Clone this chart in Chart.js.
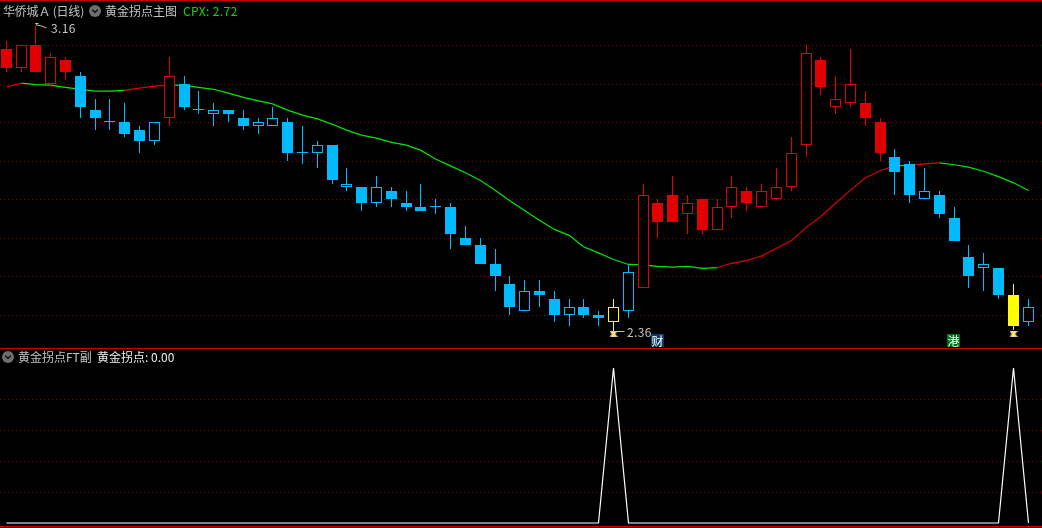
<!DOCTYPE html>
<html>
<head>
<meta charset="utf-8">
<title>华侨城A</title>
<script src="https://cdn.jsdelivr.net/npm/chart.js@4/dist/chart.umd.js"></script>
<style>
  html, body { margin: 0; padding: 0; background: #000; overflow: hidden; }
  #page { position: relative; width: 1042px; height: 528px; background: #000; overflow: hidden; }
  canvas { position: absolute; left: 0; display: block; }
  #mainChart { top: 0; }
  #subChart { top: 348px; }
  .rule { position: absolute; left: 0; width: 1042px; height: 1px; background: #c80000; }
  .txt { position: absolute; white-space: nowrap; font: 12px/14px "Noto Sans CJK SC", "Liberation Sans", sans-serif; color: #c4c4c4; }
  .badge { position: absolute; width: 13px; height: 13px; color: #fff; text-align: center; font: 12px/13px "Noto Sans CJK SC", sans-serif; }
  .knob { position: absolute; width: 12px; height: 12px; }
</style>
</head>
<body>
<div id="page">
  <canvas id="mainChart" width="1042" height="348"></canvas>
  <canvas id="subChart" width="1042" height="180"></canvas>

  <div class="rule" style="top:0"></div>
  <div class="rule" style="top:348px"></div>
  <div class="rule" style="top:526px"></div>

  <span class="txt" style="left:3px;top:4px;letter-spacing:-.2px">华侨城Ａ (日线)</span>
  <svg class="knob" style="left:89px;top:5px" viewBox="0 0 13 13"><circle cx="6.5" cy="6.5" r="6.5" fill="#6e6e6e"/><polyline points="3.5,5 6.5,8 9.5,5" fill="none" stroke="#000" stroke-width="1.4"/></svg>
  <span class="txt" style="left:105px;top:4px">黄金拐点主图</span>
  <span class="txt" style="left:183px;top:4px;color:#00e000;letter-spacing:.4px">CPX: 2.72</span>

  <span class="txt" style="left:51px;top:21px;letter-spacing:.4px">3.16</span>
  <span class="txt" style="left:627px;top:325px;letter-spacing:.4px">2.36</span>
  <span class="badge" style="left:651px;top:334px;background:#0b3a6e">财</span>
  <span class="badge" style="left:947px;top:334px;background:#00700f">港</span>

  <svg class="knob" style="left:2px;top:351px" viewBox="0 0 13 13"><circle cx="6.5" cy="6.5" r="6.5" fill="#6e6e6e"/><polyline points="3.5,5 6.5,8 9.5,5" fill="none" stroke="#000" stroke-width="1.4"/></svg>
  <span class="txt" style="left:18px;top:350px">黄金拐点FT副</span>
  <span class="txt" style="left:97px;top:350px;color:#eee">黄金拐点: 0.00</span>
</div>

<script>
// candles (price in yuan)
var open = [3.10,3.05,3.11,3.01,3.07,3.03,2.94,2.91,2.91,2.89,
            2.86,2.92,3.01,2.94,2.93,2.94,2.92,2.90,2.90,2.91,
            2.83,2.83,2.85,2.74,2.74,2.70,2.73,2.70,2.69,2.69,
            2.69,2.61,2.59,2.54,2.49,2.42,2.47,2.45,2.41,2.43,
            2.41,2.39,2.42,2.48,2.70,2.72,2.67,2.71,2.63,2.69,
            2.73,2.69,2.71,2.74,2.85,3.07,2.95,2.96,2.96,2.91,
            2.82,2.80,2.71,2.72,2.66,2.56,2.53,2.53,2.46,2.39];
var high = [3.12,3.11,3.16,3.09,3.08,3.04,2.97,2.97,2.96,2.90,
            2.91,3.08,3.03,2.99,2.96,2.94,2.94,2.92,2.95,2.92,
            2.90,2.86,2.85,2.79,2.74,2.77,2.74,2.73,2.75,2.71,
            2.70,2.64,2.61,2.58,2.51,2.50,2.50,2.47,2.45,2.45,
            2.42,2.45,2.54,2.75,2.71,2.77,2.72,2.71,2.71,2.77,
            2.74,2.75,2.79,2.87,3.11,3.08,3.03,3.10,2.99,2.92,
            2.84,2.81,2.79,2.73,2.69,2.59,2.57,2.53,2.49,2.45];
var low = [3.04,3.04,3.04,3.00,3.02,2.92,2.89,2.89,2.87,2.83,
           2.85,2.90,2.94,2.93,2.90,2.91,2.89,2.88,2.90,2.81,
           2.80,2.79,2.75,2.73,2.68,2.69,2.69,2.68,2.68,2.67,
           2.58,2.59,2.54,2.47,2.41,2.42,2.43,2.39,2.38,2.40,
           2.38,2.36,2.40,2.48,2.61,2.65,2.62,2.62,2.63,2.66,
           2.68,2.69,2.71,2.73,2.82,2.98,2.93,2.95,2.90,2.81,
           2.72,2.70,2.71,2.66,2.60,2.48,2.47,2.45,2.37,2.38];
var close = [3.05,3.11,3.04,3.08,3.04,2.95,2.92,2.91,2.88,2.86,
             2.91,3.03,2.95,2.94,2.94,2.93,2.90,2.91,2.92,2.83,
             2.83,2.85,2.76,2.75,2.70,2.74,2.71,2.69,2.68,2.69,
             2.62,2.59,2.54,2.51,2.43,2.47,2.46,2.41,2.43,2.41,
             2.40,2.43,2.52,2.72,2.65,2.65,2.70,2.63,2.69,2.74,
             2.70,2.73,2.74,2.83,3.09,3.00,2.97,3.01,2.92,2.83,
             2.78,2.72,2.73,2.67,2.60,2.51,2.54,2.46,2.38,2.43];

// 1 = red day, -1 = blue day
var trend = [1,1,1,1,1,-1,-1,-1,-1,-1,
             -1,1,-1,-1,-1,-1,-1,-1,-1,-1,
             -1,-1,-1,-1,-1,-1,-1,-1,-1,-1,
             -1,-1,-1,-1,-1,-1,-1,-1,-1,-1,
             -1,-1,-1,1,1,1,1,1,1,1,
             1,1,1,1,1,1,1,1,1,1,
             -1,-1,-1,-1,-1,-1,-1,-1,-1,-1];

// CPX line
var cpx = [3.001,3.011,3.007,3.006,3.000,2.995,2.990,2.990,2.992,2.998,
           3.003,3.006,3.005,3.000,2.995,2.985,2.974,2.965,2.957,2.941,
           2.928,2.918,2.904,2.889,2.876,2.868,2.857,2.850,2.837,2.814,
           2.796,2.778,2.758,2.732,2.706,2.680,2.655,2.631,2.615,2.586,
           2.570,2.553,2.540,2.539,2.535,2.533,2.535,2.530,2.532,2.543,
           2.550,2.562,2.582,2.602,2.637,2.664,2.699,2.733,2.765,2.784,
           2.796,2.798,2.801,2.804,2.799,2.793,2.782,2.768,2.752,2.732];

// 黄金拐点 indicator
var golden = [0,0,0,0,0,0,0,0,0,0,
              0,0,0,0,0,0,0,0,0,0,
              0,0,0,0,0,0,0,0,0,0,
              0,0,0,0,0,0,0,0,0,0,
              0,1,0,0,0,0,0,0,0,0,
              0,0,0,0,0,0,0,0,0,0,
              0,0,0,0,0,0,0,0,1,0];

var priceGrid = [3.11,3.01,2.91,2.81,2.71,2.61,2.51,2.41];
var subGrid = [0.2,0.4,0.6,0.8];
var goldenMarkPrice = 2.36;

var RED = "#e00000", BLUE = "#00baff", YELLOW = "#ffff00", GREEN = "#00e800";
var GRID = "#800000";

var xMin = -0.425, xMax = 69.935;
var priceMin = 2.3230, priceMax = 3.2269;

function candleColor(i) {
  if (golden[i] === 1) return YELLOW;
  return trend[i] > 0 ? RED : BLUE;
}

// little hourglass under a golden point
function hourglass() {
  var c = document.createElement("canvas");
  c.width = 8; c.height = 6;
  var g = c.getContext("2d");
  g.fillStyle = "#e8c8b0";
  g.beginPath();
  g.moveTo(0, 0); g.lineTo(8, 0); g.lineTo(6, 3); g.lineTo(8, 6); g.lineTo(0, 6); g.lineTo(2, 3);
  g.fill();
  g.fillStyle = "#ffff30";
  g.fillRect(3, 1, 2, 4);
  return c;
}

// the old software draws on whole pixels, so do the same
var snapPixels = {
  id: "snapPixels",
  afterLayout: function (chart) {
    var xs = chart.scales.x, ys = chart.scales.y;
    var px = xs.getPixelForValue, py = ys.getPixelForValue;
    xs.getPixelForValue = function (v) { return Math.floor(px.call(xs, v)) + 0.5; };
    ys.getPixelForValue = function (v) { return Math.round(py.call(ys, v)); };
  }
};

// leader lines to the high and low price texts
var leaders = {
  id: "leaders",
  afterDatasetsDraw: function (chart) {
    var g = chart.ctx, xs = chart.scales.x, ys = chart.scales.y;
    var hi = high.indexOf(Math.max.apply(null, high));
    var lo = low.indexOf(Math.min.apply(null, low));
    var hx = xs.getPixelForValue(hi), hy = ys.getPixelForValue(high[hi]);
    var lx = xs.getPixelForValue(lo), ly = ys.getPixelForValue(low[lo]);
    g.save();
    g.strokeStyle = "#c0c0c0";
    g.lineWidth = 1;
    g.beginPath();
    g.moveTo(hx, hy - 2.5); g.lineTo(hx + 3, hy - 2.5); g.moveTo(hx, hy - 2.5); g.lineTo(hx + 2, hy);
    g.moveTo(hx + 2, hy - 1); g.lineTo(hx + 6, hy); g.lineTo(hx + 11, hy + 2);
    g.moveTo(lx, ly - 2.5); g.lineTo(lx + 11, ly - 2.5);
    g.stroke();
    g.restore();
  }
};

var xScale = { type: "linear", min: xMin, max: xMax, offset: false, display: false };

function gridScale(lo, hi, values) {
  return {
    min: lo,
    max: hi,
    border: { display: false, dash: [1, 3] },
    grid: { color: GRID, drawTicks: false },
    ticks: { display: false },
    afterBuildTicks: function (s) { s.ticks = values.map(function (v) { return { value: v }; }); }
  };
}

var sharedOptions = function (scales) {
  return {
    responsive: false,
    animation: false,
    devicePixelRatio: 1,
    layout: { padding: 0, autoPadding: false },
    events: [],
    plugins: { legend: { display: false }, tooltip: { enabled: false } },
    scales: scales
  };
};

var wickData = high.map(function (h, i) { return { x: i, y: [low[i], h] }; });
var bodyData = open.map(function (o, i) { return { x: i, y: [o, close[i]] }; });
var cpxData = cpx.map(function (v, i) { return { x: i, y: v }; });
var markData = [];
golden.forEach(function (v, i) { if (v === 1) markData.push({ x: i, y: goldenMarkPrice }); });

new Chart("mainChart", {
  type: "bar",
  data: {
    datasets: [
      {
        type: "line",
        data: cpxData,
        yAxisID: "yLine", // same range as y, but not snapped, keeps the curve smooth
        order: 3,
        borderWidth: 1.2,
        pointRadius: 0,
        tension: 0,
        borderColor: GREEN,
        segment: {
          borderColor: function (ctx) {
            return ctx.p1.parsed.y - ctx.p0.parsed.y > 0.0025 ? RED : GREEN;
          }
        }
      },
      {
        data: wickData,
        order: 2,
        grouped: false,
        barThickness: 1,
        inflateAmount: 0,
        borderWidth: 0,
        backgroundColor: high.map(function (h, i) { return candleColor(i); })
      },
      {
        data: bodyData,
        order: 1,
        grouped: false,
        barThickness: 11,
        minBarLength: 1,
        inflateAmount: 0,
        borderWidth: 1,
        borderSkipped: false,
        borderColor: open.map(function (o, i) { return candleColor(i); }),
        backgroundColor: open.map(function (o, i) {
          return close[i] > open[i] ? "#000" : candleColor(i);
        })
      },
      {
        type: "scatter",
        data: markData,
        order: 0,
        pointStyle: hourglass(),
        pointRadius: 4
      }
    ]
  },
  options: sharedOptions({
    x: xScale,
    y: gridScale(priceMin, priceMax, priceGrid),
    yLine: { min: priceMin, max: priceMax, display: false }
  }),
  plugins: [snapPixels, leaders]
});

new Chart("subChart", {
  type: "line",
  data: {
    datasets: [{
      data: golden.map(function (v, i) { return { x: i, y: v }; }),
      borderColor: "#ffffff",
      borderWidth: 1.2,
      pointRadius: 0,
      tension: 0
    }]
  },
  options: sharedOptions({ x: xScale, y: gridScale(-0.0323, 1.129, subGrid) }),
  plugins: [snapPixels]
});
</script>
</body>
</html>
